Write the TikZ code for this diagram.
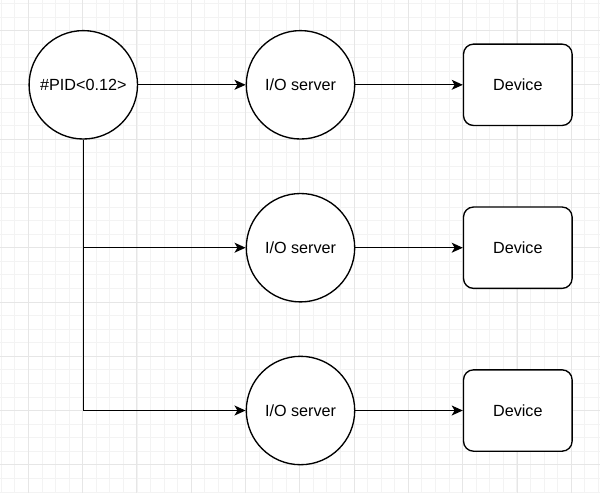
\documentclass[tikz,border=0pt]{standalone}
\usepackage{fontspec}
\setmainfont{Liberation Sans}
\usetikzlibrary{arrows.meta}
\definecolor{gridminor}{HTML}{F3F3F3}
\definecolor{gridmajor}{HTML}{E6E6E6}

\begin{document}
\begin{tikzpicture}[x=0.03cm,y=-0.03cm,
    proc/.style={draw,circle,line width=1.15pt,fill=white,inner sep=0pt,
        minimum size=3.252cm,font=\fontsize{13.8}{16}\selectfont},
    dev/.style={draw,rounded corners=8.5pt,line width=1.15pt,fill=white,
        minimum width=3.258cm,minimum height=2.44cm,font=\fontsize{13.8}{16}\selectfont},
    link/.style={line width=1.15pt,-{Stealth[length=9.5pt,width=8.5pt,inset=2.5pt]}}]
    \useasboundingbox (0,0) rectangle (600,493);
    % background grid
    \foreach \i in {0,...,44}
        \draw[gridminor,line width=0.6pt] ({1.16+13.57*\i},0) -- ++(0,493);
    \foreach \i in {0,...,36}
        \draw[gridminor,line width=0.6pt] (0,{3.36+13.57*\i}) -- ++(600,0);
    \foreach \i in {0,...,10}
        \draw[gridmajor,line width=0.7pt] ({28.3+54.29*\i},0) -- ++(0,493);
    \foreach \i in {0,...,8}
        \draw[gridmajor,line width=0.7pt] (0,{30.5+54.29*\i}) -- ++(600,0);

    \node[proc] (pid) at (83.3,84.8) {\#PID<0.12>};
    \node[proc] (io1) at (300.5,84.8) {I/O server};
    \node[proc] (io2) at (300.5,247.7) {I/O server};
    \node[proc] (io3) at (300.5,410.5) {I/O server};
    \node[dev] (dev1) at (517.8,84.8) {Device};
    \node[dev] (dev2) at (517.8,247.7) {Device};
    \node[dev] (dev3) at (517.8,410.5) {Device};

    \draw[link] (pid) -- (io1);
    \draw[link] (pid.south) |- (io2);
    \draw[link] (pid.south) |- (io3);
    \foreach \n in {1,2,3}
        \draw[link] (io\n) -- (dev\n);
\end{tikzpicture}
\end{document}
